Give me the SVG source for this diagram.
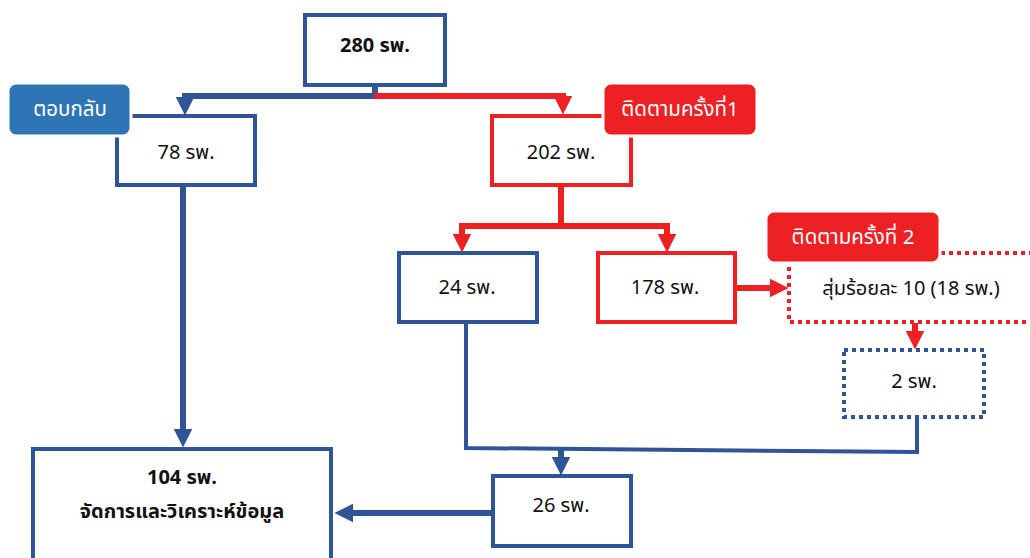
<svg xmlns="http://www.w3.org/2000/svg" width="1030" height="558" viewBox="0 0 1030 558">
<style>
text{font-family:"Noto Sans Thai","Noto Sans Thai UI","Tahoma","Liberation Sans",sans-serif;text-anchor:middle;dominant-baseline:central;}
.t{font-size:20px;fill:#111;}
.b{font-weight:bold;}
.lbl{font-size:20.5px;fill:#fff;}
.box{fill:#fff;stroke-width:4;}
.blue{stroke:#2F5597;}
.red{stroke:#ED2024;}
.dot{stroke-dasharray:4 4;}
.c{fill:none;stroke-width:6;}
</style>
<defs>
<marker id="ab" viewBox="0 0 18 18" markerWidth="19" markerHeight="19" markerUnits="userSpaceOnUse" refX="8" refY="9" orient="auto"><path d="M0,0 L18,9 L0,18 z" fill="#2F5597"/></marker>
<marker id="ar" viewBox="0 0 18 18" markerWidth="19" markerHeight="19" markerUnits="userSpaceOnUse" refX="8" refY="9" orient="auto"><path d="M0,0 L18,9 L0,18 z" fill="#ED2024"/></marker>
</defs>
<g id="n104"><rect class="box blue" x="33" y="449" width="298" height="120"/><text class="t b" x="182" y="478">104 รพ.</text><text class="t b" x="182" y="512">จัดการและวิเคราะห์ข้อมูล</text></g>
<g id="n280"><rect class="box blue" x="305" y="15" width="140" height="70"/><text class="t b" x="375" y="46">280 รพ.</text></g>
<g id="n78"><rect class="box blue" x="117" y="116" width="138" height="69"/><text class="t" x="186" y="153">78 รพ.</text></g>
<g id="n202"><rect class="box red" x="492" y="116" width="139" height="69"/><text class="t" x="561" y="153">202 รพ.</text></g>
<g id="n24"><rect class="box blue" x="399" y="253" width="138" height="69"/><text class="t" x="467" y="288">24 รพ.</text></g>
<g id="n178"><rect class="box red" x="598" y="253" width="137" height="69"/><text class="t" x="665" y="288">178 รพ.</text></g>
<g id="nsample"><rect class="box red dot" x="789" y="253" width="260" height="69"/><text class="t" x="911" y="289">สุ่มร้อยละ 10 (18 รพ.)</text></g>
<g id="n2"><rect class="box blue dot" x="844" y="350" width="140" height="67"/><text class="t" x="914" y="382">2 รพ.</text></g>
<g id="n26"><rect class="box blue" x="493" y="476" width="138" height="70"/><text class="t" x="561" y="506">26 รพ.</text></g>
<g id="connectors">
<path class="c blue" d="M375,85 V96 H185 V105" marker-end="url(#ab)"/>
<path class="c red" d="M374,96 H563 V104" marker-end="url(#ar)"/>
<path class="c red" d="M561,185 V226 H462 V242" marker-end="url(#ar)"/>
<path class="c red" d="M561,226 H667 V242" marker-end="url(#ar)"/>
<path class="c red" d="M735,288 H778" marker-end="url(#ar)"/>
<path class="c red" d="M915,323 V339" marker-end="url(#ar)"/>
<path class="c blue" d="M183,185 V437" marker-end="url(#ab)"/>
<path class="c blue" style="stroke-width:4" d="M466,322 V448 L917,452 V417"/>
<path class="c blue" d="M561,450 V465" marker-end="url(#ab)"/>
<path class="c blue" d="M492,513 H345" marker-end="url(#ab)"/>
</g>
<g id="lblReply"><rect x="8" y="83" width="123" height="53" rx="8" fill="#2E75B6" stroke="#fff" stroke-width="3"/><text class="lbl" x="70" y="109">ตอบกลับ</text></g>
<g id="lblFollow1"><rect x="603" y="83" width="154" height="53" rx="8" fill="#ED2024" stroke="#fff" stroke-width="3"/><text class="lbl" x="680" y="109">ติดตามครั้งที่1</text></g>
<g id="lblFollow2"><rect x="766" y="211" width="174" height="52" rx="8" fill="#ED2024" stroke="#fff" stroke-width="3"/><text class="lbl" x="853" y="237">ติดตามครั้งที่ 2</text></g>
</svg>
